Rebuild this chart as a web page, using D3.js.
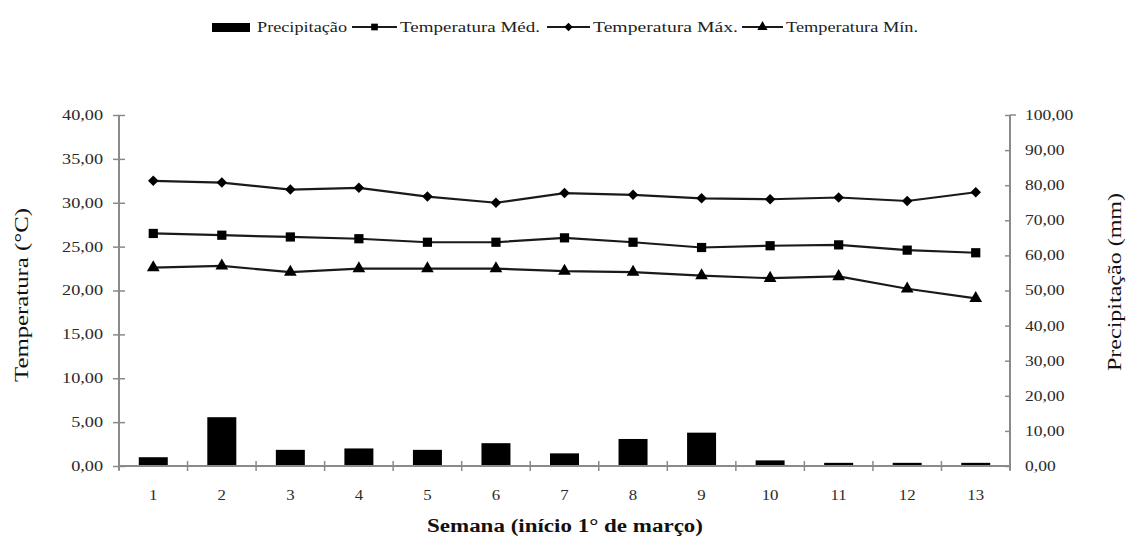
<!DOCTYPE html>
<html><head><meta charset="utf-8">
<script src="https://cdn.jsdelivr.net/npm/d3@7"></script>
<style>
body{margin:0;background:#fff;}
svg{display:block;font-family:"Liberation Serif","Times New Roman",serif;}
</style></head>
<body><svg id="c" width="1127" height="545"></svg>
<script>
const weeks = ["1","2","3","4","5","6","7","8","9","10","11","12","13"];
const precip = [2.5,13.9,4.6,5.0,4.6,6.5,3.6,7.7,9.5,1.6,0.9,0.9,0.9];
const tMed = [26.5,26.3,26.1,25.9,25.5,25.5,26.0,25.5,24.9,25.1,25.2,24.6,24.3];
const tMax = [32.5,32.3,31.5,31.7,30.7,30.0,31.1,30.9,30.5,30.4,30.6,30.2,31.2];
const tMin = [22.6,22.8,22.1,22.5,22.5,22.5,22.2,22.1,21.7,21.4,21.6,20.2,19.1];
const leftTicks = [0,5,10,15,20,25,30,35,40];
const rightTicks = [0,10,20,30,40,50,60,70,80,90,100];
const legendLabels = ["Precipitação","Temperatura Méd.","Temperatura Máx.","Temperatura Mín."];

const svg = d3.select("#c");
const L = 119, R = 1010, T = 115, B = 466;
const fmt = v => d3.format(".2f")(v).replace(".", ",");
const axisCol = "#8a8a8a", txtCol = "#2a2a2a";

const x = d3.scaleBand().domain(weeks).range([L, R]).paddingInner(0.577).paddingOuter(0.2885);
const yT = d3.scaleLinear().domain([0, 40]).range([B, T]);
const yP = d3.scaleLinear().domain([0, 100]).range([B, T]);
const cx = d => x(d) + x.bandwidth() / 2;

function stretch(sel, k) {
  sel.each(function () {
    const len = this.getComputedTextLength();
    d3.select(this).attr("textLength", len * k).attr("lengthAdjust", "spacingAndGlyphs");
  });
}
function fitTo(sel, w) {
  sel.attr("textLength", w).attr("lengthAdjust", "spacingAndGlyphs");
}

// bars
svg.append("g").selectAll("rect").data(precip).join("rect")
  .attr("x", (d, i) => x(weeks[i])).attr("width", x.bandwidth())
  .attr("y", d => yP(d)).attr("height", d => B - yP(d))
  .attr("fill", "#000");

// left axis
const gL = svg.append("g").attr("transform", `translate(${L},0)`)
  .call(d3.axisLeft(yT).tickValues(leftTicks).tickFormat(fmt).tickSize(6).tickPadding(10));
gL.select(".domain").remove();
gL.selectAll(".tick line").attr("x2", -6).attr("x1", 6).attr("stroke", axisCol).attr("stroke-width", 1.5);
gL.selectAll(".tick text").attr("font-size", 14).attr("fill", txtCol).attr("x", -16).attr("font-family", "Liberation Serif");
svg.append("line").attr("x1", L).attr("x2", L).attr("y1", T).attr("y2", B + 4)
  .attr("stroke", axisCol).attr("stroke-width", 2);

// right axis
const gR = svg.append("g").attr("transform", `translate(${R},0)`)
  .call(d3.axisRight(yP).tickValues(rightTicks).tickFormat(fmt).tickSize(0).tickPadding(15));
gR.select(".domain").remove();
gR.selectAll(".tick line").attr("x1", -5).attr("x2", 0).attr("stroke", axisCol).attr("stroke-width", 1.5);
gR.selectAll(".tick text").attr("font-size", 14).attr("fill", txtCol).attr("font-family", "Liberation Serif");
svg.append("line").attr("x1", R).attr("x2", R).attr("y1", T).attr("y2", B + 4)
  .attr("stroke", axisCol).attr("stroke-width", 2);
svg.append("line").attr("x1", R).attr("x2", R + 6).attr("y1", T).attr("y2", T)
  .attr("stroke", axisCol).attr("stroke-width", 1.5);

// bottom axis
svg.append("line").attr("x1", L).attr("x2", R).attr("y1", B).attr("y2", B)
  .attr("stroke", axisCol).attr("stroke-width", 2);
const bounds = weeks.map(w => x(w) - x.step() * x.paddingInner() / 2).concat([R]);
svg.append("g").selectAll("line").data(bounds).join("line")
  .attr("x1", d => d).attr("x2", d => d).attr("y1", B - 5).attr("y2", B + 5)
  .attr("stroke", axisCol).attr("stroke-width", 1.5);
const xLab = svg.append("g").selectAll("text").data(weeks).join("text")
  .attr("x", d => cx(d)).attr("y", 500).attr("text-anchor", "middle")
  .attr("font-size", 14).attr("fill", txtCol).text(d => d);

// lines
const series = [
  {vals: tMed, shape: d3.symbolSquare, size: 85},
  {vals: tMax, shape: d3.symbolDiamond2, size: 70},
  {vals: tMin, shape: d3.symbolTriangle, size: 70}
];
const line = d3.line().x((d, i) => cx(weeks[i])).y(d => yT(d));
series.forEach(s => {
  svg.append("path").datum(s.vals).attr("d", line).attr("fill", "none")
    .attr("stroke", "#1a1a1a").attr("stroke-width", 2.2);
  svg.append("g").selectAll("path").data(s.vals).join("path")
    .attr("transform", (d, i) => `translate(${cx(weeks[i])},${yT(d)})`)
    .attr("d", d3.symbol().type(s.shape).size(s.size)).attr("fill", "#000");
});

// axis titles
const lt = svg.append("text").attr("transform", "translate(28,295) rotate(-90)")
  .attr("text-anchor", "middle").attr("font-size", 18).attr("fill", "#111").text("Temperatura (°C)");
fitTo(lt, 174);
const rt = svg.append("text").attr("transform", "translate(1121,282) rotate(-90)")
  .attr("text-anchor", "middle").attr("font-size", 18).attr("fill", "#111").text("Precipitação (mm)");
fitTo(rt, 178);
const xt = svg.append("text").attr("x", 565).attr("y", 532).attr("text-anchor", "middle")
  .attr("font-size", 18).attr("font-weight", "bold").attr("fill", "#111").text("Semana (início 1° de março)");
fitTo(xt, 276);

// legend
const lg = svg.append("g");
lg.append("rect").attr("x", 212).attr("y", 23).attr("width", 38).attr("height", 9).attr("fill", "#000");
const legItems = [
  {x1: 352, x2: 397, tx: 400, tw: 140, shape: d3.symbolSquare, size: 45},
  {x1: 547, x2: 590, tx: 593, tw: 145, shape: d3.symbolDiamond2, size: 45},
  {x1: 742, x2: 783, tx: 786, tw: 132, shape: d3.symbolTriangle, size: 45}
];
fitTo(lg.append("text").attr("x", 257).attr("y", 32).attr("font-size", 15).attr("fill", "#222").text(legendLabels[0]), 90);
legItems.forEach((it, i) => {
  lg.append("line").attr("x1", it.x1).attr("x2", it.x2).attr("y1", 27).attr("y2", 27)
    .attr("stroke", "#1a1a1a").attr("stroke-width", 2);
  lg.append("path").attr("transform", `translate(${(it.x1 + it.x2) / 2},27)`)
    .attr("d", d3.symbol().type(it.shape).size(it.size)).attr("fill", "#000");
  fitTo(lg.append("text").attr("x", it.tx).attr("y", 32).attr("font-size", 15).attr("fill", "#222")
    .text(legendLabels[i + 1]), it.tw);
});

stretch(gL.selectAll(".tick text"), 1.3);
stretch(gR.selectAll(".tick text"), 1.25);
stretch(xLab, 1.2);
</script></body></html>
